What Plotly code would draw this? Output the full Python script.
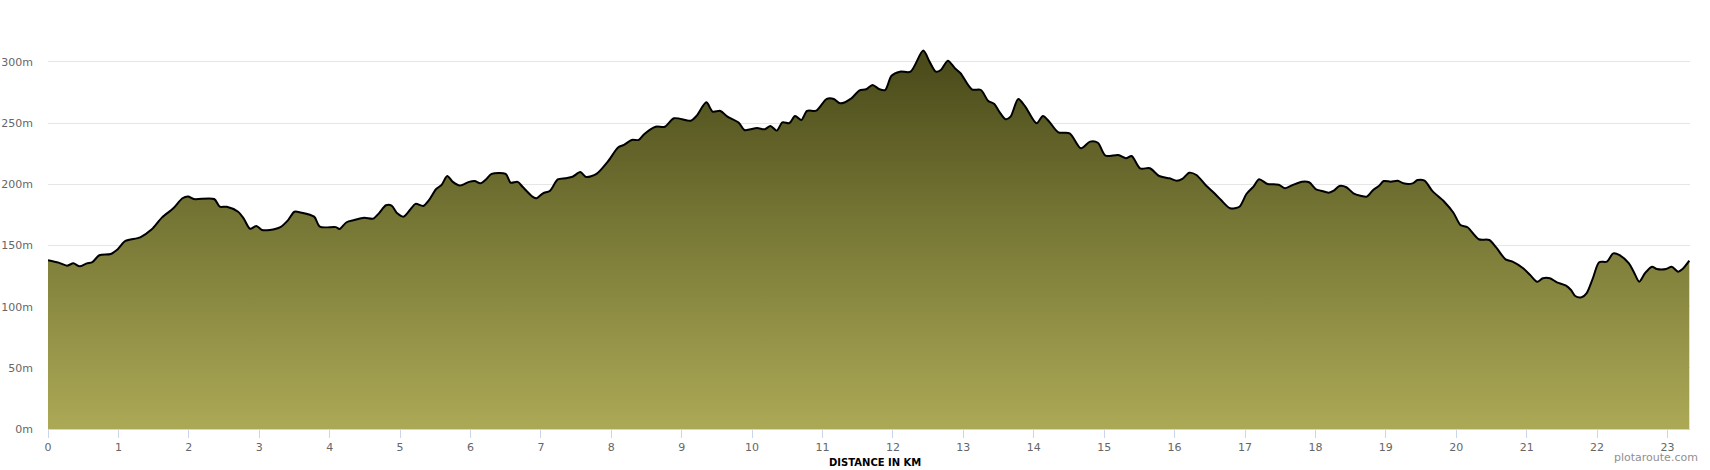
import plotly.graph_objects as go

distance_km = [
    0.00, 0.15, 0.27, 0.36, 0.45, 0.55, 0.63, 0.73, 0.89, 0.99, 1.10, 1.31, 1.47, 1.62, 1.78,
    1.91, 1.99, 2.07, 2.36, 2.44, 2.54, 2.70, 2.78, 2.87, 2.96, 3.04, 3.15, 3.30, 3.41, 3.50,
    3.59, 3.78, 3.86, 4.09, 4.14, 4.24, 4.35, 4.49, 4.62, 4.70, 4.80, 4.88, 4.96, 5.05, 5.14,
    5.22, 5.33, 5.41, 5.51, 5.59, 5.67, 5.75, 5.85, 5.98, 6.06, 6.14, 6.22, 6.30, 6.50, 6.57,
    6.67, 6.74, 6.88, 6.94, 7.03, 7.13, 7.24, 7.35, 7.45, 7.56, 7.64, 7.79,
    7.95, 8.10, 8.18, 8.29, 8.39, 8.47, 8.63, 8.76, 8.89, 9.13, 9.21, 9.35, 9.44, 9.55, 9.65,
    9.81, 9.89, 10.07, 10.18, 10.26, 10.35, 10.43, 10.53, 10.61, 10.70, 10.78, 10.91, 11.06,
    11.16, 11.25, 11.41, 11.52, 11.62, 11.71, 11.81, 11.89, 11.98, 12.10, 12.25, 12.43, 12.52,
    12.61, 12.68, 12.78, 12.88, 12.96, 13.12, 13.25, 13.35, 13.44, 13.51, 13.60, 13.67, 13.78,
    13.88, 14.04, 14.13, 14.22, 14.35, 14.51, 14.67, 14.80, 14.91, 15.02, 15.20, 15.31, 15.39,
    15.51, 15.65, 15.78, 15.93, 16.03, 16.11, 16.21, 16.31, 16.44, 16.59, 16.66, 16.79, 16.92,
    17.02, 17.12, 17.20, 17.32, 17.48, 17.57, 17.68, 17.81, 17.91, 18.01, 18.08, 18.19, 18.26,
    18.34, 18.44, 18.54, 18.64, 18.73, 18.82, 18.90, 18.97, 19.07, 19.17, 19.25, 19.38, 19.45,
    19.55, 19.66, 19.83, 19.96, 20.06, 20.16, 20.32, 20.47, 20.57, 20.70, 20.80, 20.95, 21.05,
    21.15, 21.23, 21.33, 21.43, 21.56, 21.63, 21.69, 21.78, 21.85, 21.94, 22.03, 22.14, 22.23,
    22.32, 22.45, 22.52, 22.60, 22.68, 22.78, 22.85, 22.98, 23.06, 23.15, 23.21, 23.31,
]

elevation_m = [
    138.0, 136.0, 133.5, 135.4, 133.0, 135.4, 136.5, 142.0, 143.0, 147.0, 153.7, 156.7, 163.0, 173.0, 180.4,
    188.6, 190.0, 188.0, 188.0, 181.7, 181.7, 177.6, 172.0, 163.7, 166.0, 162.7, 162.7, 165.0, 170.8, 177.6,
    177.0, 173.6, 165.4, 165.0, 163.5, 169.0, 170.8, 172.7, 172.0, 176.3, 182.9, 182.6, 176.3, 173.6, 179.0,
    184.0, 182.3, 187.0, 196.0, 199.5, 206.8, 202.0, 199.0, 202.0, 202.7, 200.8, 204.0, 208.5, 208.5, 201.4,
    202.0, 198.0, 190.0, 188.6, 192.7, 194.8, 204.0, 205.0, 206.2, 210.0, 206.0, 208.5,
    218.5, 230.3, 232.2, 236.3, 236.3, 241.2, 247.1, 247.1, 254.0, 252.0, 255.9, 267.0, 259.4, 260.0, 255.3,
    250.4, 244.4, 246.0, 245.0, 247.7, 243.9, 250.7, 250.1, 255.9, 252.6, 260.0, 260.2, 269.8,
    269.8, 266.2, 270.3, 276.6, 277.7, 281.2, 277.7, 277.1, 288.8, 292.1, 292.1, 309.3, 300.3,
    292.1, 293.5, 301.1, 294.9, 290.8, 277.7, 277.1, 268.4, 265.7, 259.4, 253.2, 255.3, 269.8,
    263.5, 249.9, 255.9, 251.2, 242.5, 241.7, 229.5, 234.9, 234.0, 223.4, 224.0, 221.3, 223.2,
    213.1, 213.1, 206.8, 204.9, 203.0, 204.4, 209.5, 207.6, 199.5, 191.3, 187.2, 180.4, 181.7,
    192.1, 198.1, 204.1, 200.3, 199.7, 196.8, 199.5, 202.2, 201.7, 195.9, 194.8, 193.2, 194.8,
    198.6, 197.6, 192.7, 190.7, 189.9, 195.4, 198.6, 202.7, 202.2, 203.0, 200.8, 200.8, 203.5,
    203.0, 194.6, 185.8, 176.8, 166.8, 164.9, 155.1, 154.5, 148.2, 138.7, 136.8, 131.4, 125.9,
    120.4, 123.2, 123.2, 119.9, 117.2, 113.6, 108.7, 107.7, 110.9, 123.2, 136.3, 136.8, 143.6,
    142.2, 135.5, 128.6, 120.4, 127.3, 132.7, 130.8, 130.8, 132.7, 128.6, 130.5, 137.6,
]

y_tick_values = [0, 50, 100, 150, 200, 250, 300]
y_tick_labels = ["0m", "50m", "100m", "150m", "200m", "250m", "300m"]
x_tick_values = list(range(0, 24))
x_tick_labels = [str(v) for v in x_tick_values]

FONT = "DejaVu Sans, Verdana, sans-serif"
M_L, M_R, M_T, M_B = 48, 20, 10, 41
PLOT_H = 470 - M_T - M_B

fig = go.Figure()
fig.add_trace(go.Scatter(
    x=distance_km,
    y=elevation_m,
    mode="lines",
    line=dict(color="#000000", width=2, shape="spline", smoothing=0.8),
    fill="tozeroy",
    fillgradient=dict(
        type="vertical",
        colorscale=[[0, "#aca956"], [0.5, "#7b7b38"], [1, "#484819"]],
        start=0,
        stop=310,
    ),
    hoverinfo="skip",
    showlegend=False,
))

fig.update_layout(
    width=1710,
    height=470,
    margin=dict(l=M_L, r=M_R, t=M_T, b=M_B, autoexpand=False),
    paper_bgcolor="#ffffff",
    plot_bgcolor="#ffffff",
    font=dict(family=FONT, size=11, color="#666666"),
    xaxis=dict(
        range=[0, 23.32],
        tickmode="array",
        tickvals=x_tick_values,
        ticktext=x_tick_labels,
        showgrid=False,
        zeroline=False,
        showline=True,
        linecolor="#ccd6eb",
        linewidth=1,
        ticks="outside",
        ticklen=8,
        tickcolor="#ccd6eb",
        automargin=False,
        tickfont=dict(family=FONT, size=11, color="#666666"),
    ),
    yaxis=dict(
        range=[0, 342.5],
        tickmode="array",
        tickvals=y_tick_values,
        ticktext=y_tick_labels,
        showgrid=True,
        gridcolor="#e6e6e6",
        gridwidth=1,
        zeroline=False,
        showline=False,
        ticks="",
        ticklabelstandoff=14,
        automargin=False,
        tickfont=dict(family=FONT, size=11, color="#666666"),
    ),
    annotations=[
        dict(
            text="<b>DISTANCE IN KM</b>",
            xref="paper", yref="paper",
            x=0.5, y=-(462 - (470 - M_B)) / PLOT_H,
            xanchor="center", yanchor="middle",
            xshift=6,
            showarrow=False,
            font=dict(family=FONT, size=10, color="#000000"),
        ),
        dict(
            text="plotaroute.com",
            xref="paper", yref="paper",
            x=1.0, y=-(457 - (470 - M_B)) / PLOT_H,
            xanchor="right", yanchor="middle",
            xshift=10,
            showarrow=False,
            font=dict(family=FONT, size=11, color="#909090"),
        ),
    ],
)

fig.write_html(
    "out.html",
    config={"displayModeBar": False},
    post_script="document.body.style.margin='0';",
)
